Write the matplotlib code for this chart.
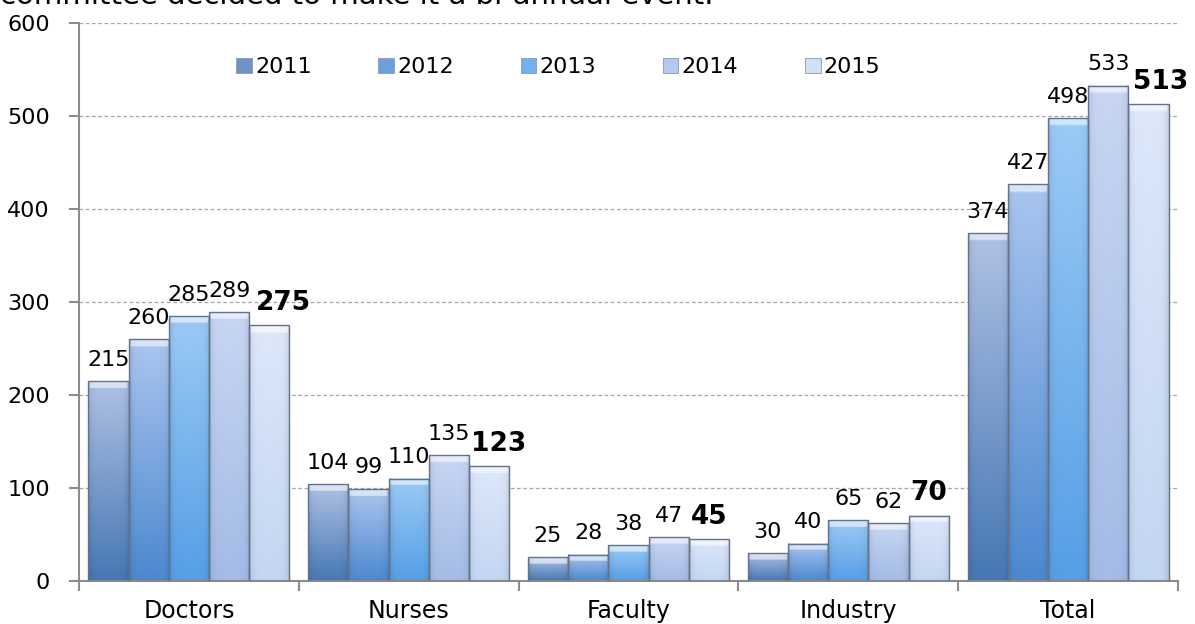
import matplotlib
matplotlib.use("Agg")
import matplotlib.pyplot as plt
import numpy as np
from matplotlib.colors import to_rgb
from matplotlib.patches import Patch

categories = ['Doctors', 'Nurses', 'Faculty', 'Industry', 'Total']
years = ['2011', '2012', '2013', '2014', '2015']
v2011 = [215, 104, 25, 30, 374]
v2012 = [260, 99, 28, 40, 427]
v2013 = [285, 110, 38, 65, 498]
v2014 = [289, 135, 47, 62, 533]
v2015 = [275, 123, 45, 70, 513]
series = [v2011, v2012, v2013, v2014, v2015]

# gradient colours (top, bottom) per year
top_cols = ['#afc2e4', '#abc6ef', '#9ccaf6', '#c8d6f3', '#dde8fa']
bot_cols = ['#4677b4', '#4c88d0', '#559fe6', '#a3bbe6', '#c3d6f2']
mid_cols = ['#6f93c6', '#6f9fdc', '#72b0ee', '#b5c9ee', '#d2e0f6']
# sideways nudge (points) for the bold 2015 labels
bold_dx = [10, 7, 0, 0, 9]

fig = plt.figure(figsize=(11.95, 6.24), dpi=100)
ax = fig.add_axes([0.0661, 0.0694, 0.9197, 0.8933])

x = np.arange(len(categories))
width = 0.183

for i, vals in enumerate(series):
    pos = x + (i - 2) * width
    bars = ax.bar(pos, vals, width, facecolor='none', edgecolor='#62728c',
                  linewidth=1.0, zorder=3)
    top = np.array(to_rgb(top_cols[i]))
    bot = np.array(to_rgb(bot_cols[i]))
    t = np.linspace(0, 1, 200)[:, None, None]
    u = np.linspace(-1, 1, 24)[None, :, None]
    for b in bars:
        h = b.get_height()
        img = bot + (top - bot) * t
        img = img * (1 - 0.10 * u ** 6)
        # light bevel cap at the top of each bar
        cap = (t > 1 - 7.0 / h) & (np.abs(u) < 0.92)
        img = np.where(cap, img * 0.45 + 0.55, img)
        img = np.clip(img, 0, 1)
        ax.imshow(img, extent=(b.get_x(), b.get_x() + b.get_width(), 0, h),
                  origin='lower', aspect='auto', zorder=2, interpolation='bilinear')
    for j, b in enumerate(bars):
        cx = b.get_x() + b.get_width() / 2
        if i == 4:
            ax.annotate(str(vals[j]), (cx, vals[j]), xytext=(bold_dx[j], 11),
                        textcoords='offset points', ha='center', va='baseline',
                        fontsize=19, fontweight='bold', color='black', zorder=5)
        else:
            ax.annotate(str(vals[j]), (cx, vals[j]), xytext=(0, 11),
                        textcoords='offset points', ha='center', va='baseline',
                        fontsize=16, color='black', zorder=5)

ax.set_xlim(-0.5, len(categories) - 0.5)
ax.set_ylim(0, 600)
ax.set_yticks(np.arange(0, 601, 100))
ax.set_xticks(x)
ax.set_xticklabels(categories)
ax.set_xticks(np.arange(-0.5, len(categories), 1), minor=True)
ax.tick_params(axis='x', which='major', length=0, pad=13, labelsize=17)
ax.tick_params(axis='x', which='minor', length=7, width=1.5, color='#8c8c8c')
ax.tick_params(axis='y', length=7, width=1.5, color='#8c8c8c', pad=14, labelsize=16)

ax.yaxis.grid(True, linestyle=(0, (3, 2)), color='#a6a6a6', linewidth=0.9)
ax.set_axisbelow(True)
for s in ['top', 'right']:
    ax.spines[s].set_visible(False)
for s in ['left', 'bottom']:
    ax.spines[s].set_color('#8c8c8c')
    ax.spines[s].set_linewidth(1.5)

handles = [Patch(facecolor=c, edgecolor='#8a9ab0', linewidth=0.6) for c in mid_cols]
ax.legend(handles, years, ncol=5, loc='upper left', bbox_to_anchor=(0.135, 0.955),
          frameon=False, fontsize=16, handlelength=0.7, handleheight=0.7,
          handletextpad=0.15, columnspacing=3.0, borderaxespad=0)

fig.text(0.0, 1 - 4 / 624, 'committee decided to make it a bi-annual event.',
         fontsize=21, va='baseline', ha='left')

fig.savefig('out.png', dpi=100)
